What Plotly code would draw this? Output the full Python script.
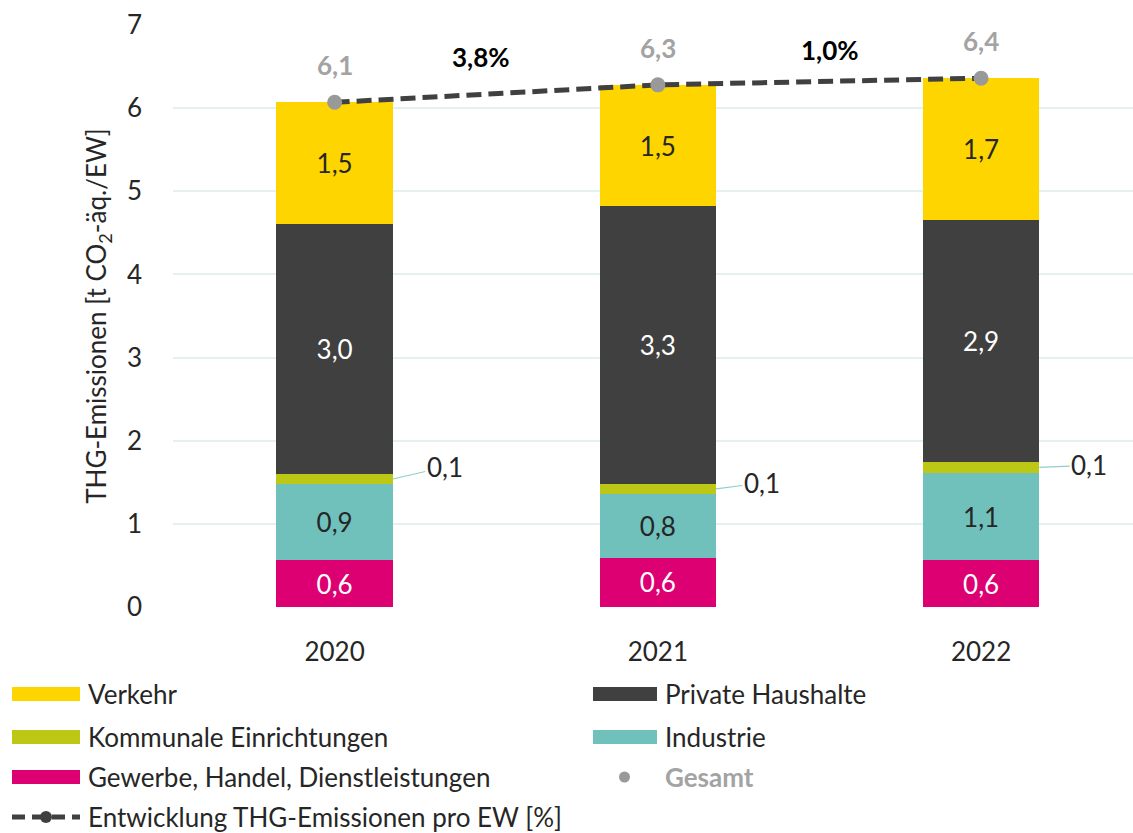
import plotly.graph_objects as go

# ---------------- data ----------------
years = ["2020", "2021", "2022"]
gewerbe = [0.56, 0.59, 0.56]
industrie = [0.92, 0.77, 1.05]
kommunale = [0.12, 0.12, 0.14]
private = [3.01, 3.34, 2.91]
verkehr = [1.46, 1.46, 1.70]
changes_pct = [3.8, 1.0]          # Entwicklung THG-Emissionen pro EW [%]
y_ticks = [0, 1, 2, 3, 4, 5, 6, 7]

gesamt = [round(a + b + c + d + e, 2) for a, b, c, d, e in
          zip(gewerbe, industrie, kommunale, private, verkehr)]
xpos = list(range(len(years)))

FONT = "Lato"
FS = 26
DARK = "#262626"

C_VERKEHR = "#FFD500"
C_PRIVATE = "#404040"
C_KOMMUNAL = "#BCC815"
C_INDUSTRIE = "#70C1BC"
C_GEWERBE = "#DC0073"
C_GESAMT = "#A3A3A3"

W, H = 1133, 833
ML, MR, MT, MB = 173, 0, 25, 226
PW, PH = W - ML - MR, H - MT - MB


def px_x(px):
    return (px - ML) / PW


def px_y(py):
    return (H - MB - py) / PH


fig = go.Figure()
BW = 0.36


def add_bar(name, vals, color, txtcolor, show_text=True):
    fig.add_trace(go.Bar(
        x=xpos, y=vals, name=name, marker_color=color, width=BW,
        marker_line_width=0,
        texttemplate="%{y:.1f}" if show_text else None,
        textposition="inside" if show_text else "none",
        insidetextanchor="middle",
        textfont=dict(family=FONT, size=FS, color=txtcolor),
        showlegend=False, hoverinfo="skip"))


add_bar("Gewerbe, Handel, Dienstleistungen", gewerbe, C_GEWERBE, "white")
add_bar("Industrie", industrie, C_INDUSTRIE, DARK)
add_bar("Kommunale Einrichtungen", kommunale, C_KOMMUNAL, DARK, show_text=False)
add_bar("Private Haushalte", private, C_PRIVATE, "white")
add_bar("Verkehr", verkehr, C_VERKEHR, DARK)

# Entwicklung line
fig.add_trace(go.Scatter(
    x=xpos, y=gesamt, mode="lines", name="Entwicklung THG-Emissionen pro EW [%]",
    line=dict(color="#404040", width=5, dash="15px,7px"),
    showlegend=False, hoverinfo="skip"))
# Gesamt markers
fig.add_trace(go.Scatter(
    x=xpos, y=gesamt, mode="markers", name="Gesamt",
    marker=dict(color="#999999", size=15),
    showlegend=False, hoverinfo="skip"))

annotations = []
# Gesamt labels
for i, v in enumerate(gesamt):
    annotations.append(dict(
        x=xpos[i], y=v, xref="x", yref="y", showarrow=False,
        text="<b>" + f"{v:.1f}".replace(".", ",") + "</b>", yshift=37,
        font=dict(family=FONT, size=FS, color=C_GESAMT)))
# change labels
chg_shift = [(-15, 37), (11, 32)]
for i, c in enumerate(changes_pct):
    xm = (xpos[i] + xpos[i + 1]) / 2
    ym = (gesamt[i] + gesamt[i + 1]) / 2
    annotations.append(dict(
        x=xm, y=ym, xref="x", yref="y", showarrow=False,
        text="<b>" + f"{c:.1f}".replace(".", ",") + "%</b>",
        xshift=chg_shift[i][0], yshift=chg_shift[i][1],
        font=dict(family=FONT, size=FS, color="black")))
# Kommunale callouts
bases = [g + ind for g, ind in zip(gewerbe, industrie)]
offsets = [(52, -12), (46, -6), (50, -2)]
for i, v in enumerate(kommunale):
    annotations.append(dict(
        x=xpos[i] + BW / 2, y=bases[i] + v / 2, xref="x", yref="y",
        text=f"{v:.1f}".replace(".", ","), showarrow=True, arrowhead=0,
        arrowwidth=1.2, arrowcolor="#8FCFCB", ax=offsets[i][0], ay=offsets[i][1],
        xanchor="center", font=dict(family=FONT, size=FS, color=DARK)))

# ---------------- manual legend ----------------
shapes = []
rows = [694, 737, 777, 817]
left_items = [("Verkehr", C_VERKEHR), ("Kommunale Einrichtungen", C_KOMMUNAL),
              ("Gewerbe, Handel, Dienstleistungen", C_GEWERBE)]
right_items = [("Private Haushalte", C_PRIVATE), ("Industrie", C_INDUSTRIE)]
for r, (name, col) in enumerate(left_items):
    shapes.append(dict(type="rect", xref="paper", yref="paper",
                       x0=px_x(12), x1=px_x(80), y0=px_y(rows[r] + 7), y1=px_y(rows[r] - 7),
                       fillcolor=col, line_width=0))
    annotations.append(dict(x=px_x(86), y=px_y(rows[r]), xref="paper", yref="paper",
                            text=name, showarrow=False, xanchor="left", yanchor="middle",
                            font=dict(family=FONT, size=FS, color=DARK)))
for r, (name, col) in enumerate(right_items):
    shapes.append(dict(type="rect", xref="paper", yref="paper",
                       x0=px_x(593), x1=px_x(657), y0=px_y(rows[r] + 7), y1=px_y(rows[r] - 7),
                       fillcolor=col, line_width=0))
    annotations.append(dict(x=px_x(663), y=px_y(rows[r]), xref="paper", yref="paper",
                            text=name, showarrow=False, xanchor="left", yanchor="middle",
                            font=dict(family=FONT, size=FS, color=DARK)))
# Gesamt legend
shapes.append(dict(type="circle", xref="paper", yref="paper",
                   x0=px_x(619), x1=px_x(630), y0=px_y(rows[2] + 5.5), y1=px_y(rows[2] - 5.5),
                   fillcolor="#999999", line_width=0))
annotations.append(dict(x=px_x(663), y=px_y(rows[2]), xref="paper", yref="paper",
                        text="<b>Gesamt</b>", showarrow=False, xanchor="left", yanchor="middle",
                        font=dict(family=FONT, size=FS, color=C_GESAMT)))
# Entwicklung legend
shapes.append(dict(type="line", xref="paper", yref="paper",
                   x0=px_x(12), x1=px_x(80), y0=px_y(rows[3]), y1=px_y(rows[3]),
                   line=dict(color="#404040", width=5, dash="13px,7px")))
shapes.append(dict(type="circle", xref="paper", yref="paper",
                   x0=px_x(40), x1=px_x(52), y0=px_y(rows[3] + 6), y1=px_y(rows[3] - 6),
                   fillcolor="#404040", line_width=0))
annotations.append(dict(x=px_x(86), y=px_y(rows[3]), xref="paper", yref="paper",
                        text="Entwicklung THG-Emissionen pro EW [%]", showarrow=False,
                        xanchor="left", yanchor="middle",
                        font=dict(family=FONT, size=FS, color=DARK)))

fig.update_layout(
    width=W, height=H, barmode="stack", separators=",.",
    margin=dict(l=ML, r=MR, t=MT, b=MB, pad=0),
    plot_bgcolor="white", paper_bgcolor="white",
    font=dict(family=FONT, size=FS, color="#404040"),
    showlegend=False, annotations=annotations, shapes=shapes,
    xaxis=dict(range=[-0.5, 2.47], tickvals=xpos, ticktext=years, showgrid=False,
               zeroline=False, showline=False, ticks="", ticklabelstandoff=27,
               tickfont=dict(family=FONT, size=FS, color=DARK), fixedrange=True),
    yaxis=dict(range=[0, 7], tickvals=y_ticks, showgrid=True, gridcolor="#E3F1F1",
               gridwidth=1.5, zeroline=False, showline=False, ticks="",
               ticklabelstandoff=30,
               tickfont=dict(family=FONT, size=FS, color=DARK),
               title=dict(text="THG-Emissionen [t CO<sub>2</sub>-äq./EW]", standoff=12,
                          font=dict(family=FONT, size=FS, color=DARK))),
)

fig.write_html("out.html", config={"displayModeBar": False},
               post_script="document.body.style.margin='0px';")
